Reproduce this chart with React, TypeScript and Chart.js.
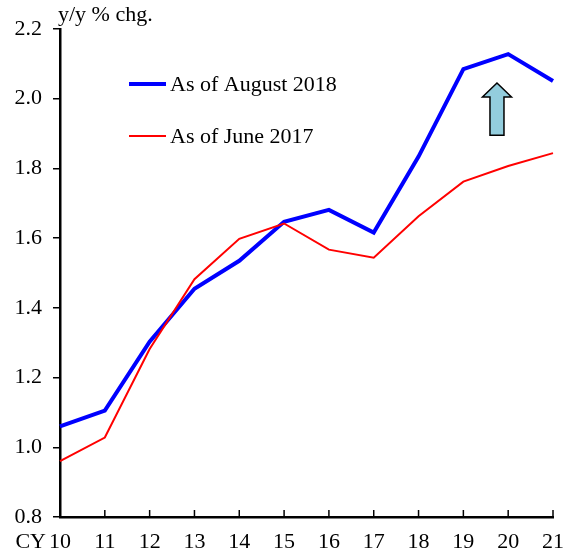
import React, { useEffect, useRef } from "react";
import { Chart, registerables } from "chart.js";

Chart.register(...registerables);

const categories = ["10", "11", "12", "13", "14", "15", "16", "17", "18", "19", "20", "21"];
const august2018 = [1.06, 1.105, 1.303, 1.455, 1.535, 1.647, 1.681, 1.616, 1.834, 2.085, 2.128, 2.051];
const june2017 = [0.96, 1.028, 1.282, 1.482, 1.598, 1.642, 1.567, 1.544, 1.663, 1.762, 1.807, 1.844];
const seriesNames = ["As of August 2018", "As of June 2017"];
const yMin = 0.8;
const yMax = 2.2;
const yStep = 0.2;
const yTitle = "y/y % chg.";
const xPrefix = "CY";

const FONT = "'Liberation Serif', 'Times New Roman', serif";
const FS = 22;

const decorPlugin = {
  id: "decor",
  afterDraw(chart: any) {
    const ctx = chart.ctx;
    const xs = chart.scales.x;
    const ys = chart.scales.y;
    const area = chart.chartArea;
    ctx.save();
    // inner x ticks
    ctx.strokeStyle = "#000";
    ctx.lineWidth = 1.5;
    for (let i = 0; i < categories.length; i++) {
      const px = xs.getPixelForValue(i);
      ctx.beginPath();
      ctx.moveTo(px, area.bottom);
      ctx.lineTo(px, area.bottom - 7);
      ctx.stroke();
    }
    // title
    ctx.fillStyle = "#000";
    ctx.font = `${FS}px ${FONT}`;
    ctx.textAlign = "left";
    ctx.textBaseline = "middle";
    ctx.fillText(yTitle, 58, 15);
    // CY prefix
    ctx.textAlign = "right";
    ctx.fillText(xPrefix, 46, 542);
    // legend
    const items = [
      { color: "#0000ff", width: 4, y: 84 },
      { color: "#ff0000", width: 2, y: 136 },
    ];
    items.forEach((it, i) => {
      ctx.strokeStyle = it.color;
      ctx.lineWidth = it.width;
      ctx.beginPath();
      ctx.moveTo(129, it.y);
      ctx.lineTo(166, it.y);
      ctx.stroke();
      ctx.fillStyle = "#000";
      ctx.textAlign = "left";
      ctx.textBaseline = "middle";
      ctx.fillText(seriesNames[i], 170, it.y + 1);
    });
    // arrow
    const x9 = xs.getPixelForValue(9);
    const x10 = xs.getPixelForValue(10);
    const cx = x9 + 0.75 * (x10 - x9);
    const tipY = ys.getPixelForValue(2.045);
    const headY = ys.getPixelForValue(2.005);
    const baseY = ys.getPixelForValue(1.895);
    const hw = 14.5;
    const sw = 7;
    ctx.beginPath();
    ctx.moveTo(cx, tipY);
    ctx.lineTo(cx + hw, headY);
    ctx.lineTo(cx + sw, headY);
    ctx.lineTo(cx + sw, baseY);
    ctx.lineTo(cx - sw, baseY);
    ctx.lineTo(cx - sw, headY);
    ctx.lineTo(cx - hw, headY);
    ctx.closePath();
    ctx.fillStyle = "#93cddd";
    ctx.fill();
    ctx.strokeStyle = "#000";
    ctx.lineWidth = 1.5;
    ctx.stroke();
    ctx.restore();
  },
};

export default function App() {
  const ref = useRef<HTMLCanvasElement | null>(null);
  useEffect(() => {
    if (!ref.current) return;
    const chart = new Chart(ref.current, {
      type: "line",
      data: {
        labels: categories,
        datasets: [
          {
            label: seriesNames[1],
            data: june2017,
            borderColor: "#ff0000",
            borderWidth: 2,
            pointRadius: 0,
            tension: 0,
            fill: false,
          },
          {
            label: seriesNames[0],
            data: august2018,
            borderColor: "#0000ff",
            borderWidth: 4,
            pointRadius: 0,
            tension: 0,
            fill: false,
          },
        ],
      },
      options: {
        animation: false,
        responsive: true,
        maintainAspectRatio: false,
        layout: { padding: { top: 29, right: 18, left: 0, bottom: 0 } },
        plugins: { legend: { display: false }, tooltip: { enabled: false }, title: { display: false } },
        scales: {
          x: {
            type: "category",
            offset: false,
            grid: { display: true, drawOnChartArea: false, drawTicks: false },
            border: { display: true, color: "#000", width: 2.5 },
            ticks: { color: "#000", font: { family: FONT, size: FS }, padding: 12, maxRotation: 0, autoSkip: false },
            afterFit: (s: any) => {
              s.height = 40;
              s.paddingLeft = 0;
              s.paddingRight = 0;
            },
          },
          y: {
            min: yMin,
            max: yMax,
            grid: { display: true, drawOnChartArea: false, drawTicks: true, tickLength: 7, color: "#000", lineWidth: 1.5 },
            border: { display: true, color: "#000", width: 2.5 },
            ticks: {
              stepSize: yStep,
              color: "#000",
              font: { family: FONT, size: FS },
              padding: 11,
              callback: (v: any) => Number(v).toFixed(1),
            },
            afterFit: (s: any) => {
              s.width = 60;
              s.paddingTop = 0;
              s.paddingBottom = 0;
            },
          },
        },
      },
      plugins: [decorPlugin],
    });
    return () => chart.destroy();
  }, []);
  return (
    <div style={{ position: "fixed", left: 0, top: 0, width: 571, height: 557, background: "#fff" }}>
      <canvas ref={ref} />
    </div>
  );
}
